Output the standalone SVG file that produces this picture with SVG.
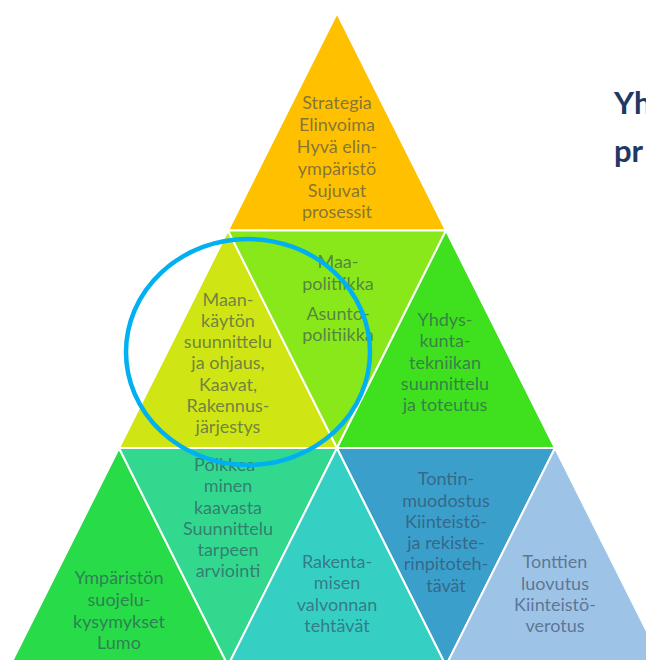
<svg xmlns="http://www.w3.org/2000/svg" width="646" height="660" viewBox="0 0 646 660">
<style>
.tri{stroke:#ffffff;stroke-width:2;stroke-linejoin:miter}
.lbl{font-family:Lato,"Liberation Sans",sans-serif;font-size:18px;fill:#34445e;fill-opacity:0.62;text-anchor:middle}
.ttl{font-family:Lato,"Liberation Sans",sans-serif;font-size:31px;font-weight:bold;fill:#1f3864}
</style>
<rect width="646" height="660" fill="#ffffff"/>
<g id="strategia">
<polygon class="tri" fill="#ffc000" points="337,13 228,230.5 446,230.5"/>
<text class="lbl"><tspan x="337" y="109">Strategia</tspan><tspan x="337" y="131">Elinvoima</tspan><tspan x="337" y="153">Hyvä elin-</tspan><tspan x="337" y="175">ympäristö</tspan><tspan x="337" y="197">Sujuvat</tspan><tspan x="337" y="218">prosessit</tspan></text>
</g>
<g id="maankaytto">
<polygon class="tri" fill="#cfe514" points="228,230.5 119,448 337,448"/>
<text class="lbl"><tspan x="228" y="306">Maan-</tspan><tspan x="228" y="327">käytön</tspan><tspan x="228" y="348">suunnittelu</tspan><tspan x="228" y="369">ja ohjaus,</tspan><tspan x="228" y="391">Kaavat,</tspan><tspan x="228" y="412">Rakennus-</tspan><tspan x="228" y="433">järjestys</tspan></text>
</g>
<g id="maapolitiikka">
<polygon class="tri" fill="#88e81a" points="228,230.5 446,230.5 337,448"/>
<text class="lbl"><tspan x="338" y="268">Maa-</tspan><tspan x="338" y="290">politiikka</tspan><tspan x="338" y="320">Asunto-</tspan><tspan x="338" y="341">politiikka</tspan></text>
</g>
<g id="yhdyskuntatekniikka">
<polygon class="tri" fill="#3fe01e" points="446,230.5 337,448 555,448"/>
<text class="lbl"><tspan x="445" y="326">Yhdys-</tspan><tspan x="445" y="347">kunta-</tspan><tspan x="445" y="369">tekniikan</tspan><tspan x="445" y="390">suunnittelu</tspan><tspan x="445" y="411">ja toteutus</tspan></text>
</g>
<g id="ymparisto">
<polygon class="tri" fill="#28db48" points="119,448 10,665.5 228,665.5"/>
<text class="lbl"><tspan x="119" y="584">Ympäristön</tspan><tspan x="119" y="606">suojelu-</tspan><tspan x="119" y="628">kysymykset</tspan><tspan x="119" y="649">Lumo</tspan></text>
</g>
<g id="poikkeaminen">
<polygon class="tri" fill="#32d88e" points="119,448 337,448 228,665.5"/>
<text class="lbl"><tspan x="228" y="471">Poikkea-</tspan><tspan x="228" y="492">minen</tspan><tspan x="228" y="514">kaavasta</tspan><tspan x="228" y="535">Suunnittelu</tspan><tspan x="228" y="556">tarpeen</tspan><tspan x="228" y="577">arviointi</tspan></text>
</g>
<g id="rakennusvalvonta">
<polygon class="tri" fill="#35d0c3" points="337,448 228,665.5 446,665.5"/>
<text class="lbl"><tspan x="337" y="568">Rakenta-</tspan><tspan x="337" y="589">misen</tspan><tspan x="337" y="611">valvonnan</tspan><tspan x="337" y="632">tehtävät</tspan></text>
</g>
<g id="tontinmuodostus">
<polygon class="tri" fill="#3a9fcb" points="337,448 555,448 446,665.5"/>
<text class="lbl"><tspan x="446" y="485">Tontin-</tspan><tspan x="446" y="507">muodostus</tspan><tspan x="446" y="528">Kiinteistö-</tspan><tspan x="446" y="549">ja rekiste-</tspan><tspan x="446" y="570">rinpitoteh-</tspan><tspan x="446" y="592">tävät</tspan></text>
</g>
<g id="tonttienluovutus">
<polygon class="tri" fill="#9dc3e6" points="555,448 446,665.5 664,665.5"/>
<text class="lbl"><tspan x="555" y="568">Tonttien</tspan><tspan x="555" y="590">luovutus</tspan><tspan x="555" y="611">Kiinteistö-</tspan><tspan x="555" y="632">verotus</tspan></text>
</g>
<g id="highlight">
<ellipse cx="248" cy="352" rx="122" ry="113" fill="none" stroke="#00b0f0" stroke-width="4.5"/>
</g>
<g id="title">
<text class="ttl" x="614" y="114">Yh</text>
<text class="ttl" x="614" y="162">pr</text>
</g>
</svg>
